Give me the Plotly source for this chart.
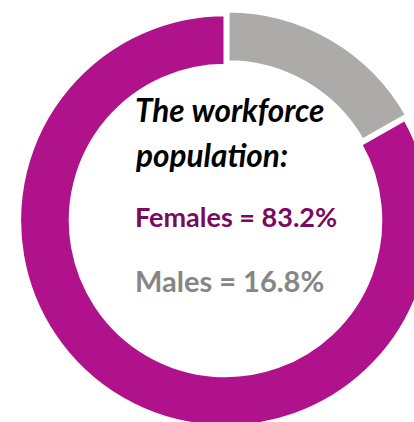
import plotly.graph_objects as go

# Data
categories = ["Males", "Females"]
shares = [16.8, 83.2]
title_lines = ["The workforce", "population:"]

slice_colors = ["#ADAAAA", "#B0128C"]
label_colors = {"Females": "#7A0A5E", "Males": "#868686"}

W, H = 440, 432
L, R, T, B = 15, 4, 10, 1
PW, PH = W - L - R, H - T - B

fig = go.Figure(
    go.Pie(
        labels=categories,
        values=shares,
        sort=False,
        direction="clockwise",
        rotation=0,
        hole=0.75,
        pull=[0.02, 0],
        marker=dict(colors=slice_colors, line=dict(color="white", width=4)),
        textinfo="none",
        hoverinfo="skip",
        showlegend=False,
    )
)

def px_to_paper(x, y):
    return (x - L) / PW, 1 - (y - T) / PH

FONT = "Lato"
text_x = 133
ann = []
for line, ymid in zip(title_lines, [110, 155]):
    xp, yp = px_to_paper(text_x, ymid)
    ann.append(dict(x=xp, y=yp, xref="paper", yref="paper", xanchor="left", yanchor="middle",
                    text=f"<b><i>{line}</i></b>", showarrow=False,
                    font=dict(family=FONT, size=31.5, color="black")))

order = ["Females", "Males"]
sizes = {"Females": 27, "Males": 29}
for cat, ymid in zip(order, [216, 280]):
    v = shares[categories.index(cat)]
    xp, yp = px_to_paper(text_x, ymid)
    ann.append(dict(x=xp, y=yp, xref="paper", yref="paper", xanchor="left", yanchor="middle",
                    text=f"<b>{cat} = {v}%</b>", showarrow=False,
                    font=dict(family=FONT, size=sizes[cat], color=label_colors[cat])))

fig.update_layout(
    width=W, height=H,
    margin=dict(l=L, r=R, t=T, b=B),
    paper_bgcolor="white",
    plot_bgcolor="white",
    annotations=ann,
)

fig.write_html(
    "out.html",
    post_script="document.body.style.margin='0';document.body.style.overflow='hidden';document.documentElement.style.overflow='hidden';",
)
